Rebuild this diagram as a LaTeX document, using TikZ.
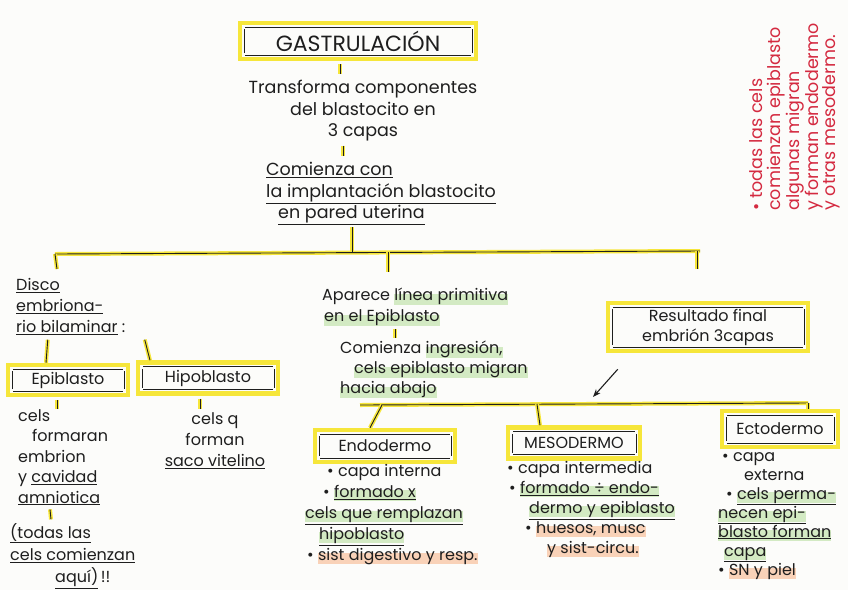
\documentclass[tikz,border=0pt]{standalone}
\usepackage{fontspec}
\setmainfont{Poppins}
\usetikzlibrary{arrows.meta}
\definecolor{hly}{HTML}{F6E63A}
\definecolor{hlg}{HTML}{D3EAC3}
\definecolor{hlo}{HTML}{F9D2B8}
\definecolor{ink}{HTML}{1E1E1E}
\definecolor{redink}{HTML}{D42A40}
\definecolor{paper}{HTML}{FCFCFA}
\newsavebox\hgbox
\newcommand\hg[2]{\sbox\hgbox{#2}\rlap{\textcolor{#1}{\rule[-4pt]{\wd\hgbox}{11pt}}}\usebox\hgbox}
\newcommand\ul[1]{\underline{#1}}
\begin{document}
\begin{tikzpicture}[x=1pt, y=-1pt,
  every node/.style={font=\fontsize{16}{21}\selectfont, text=ink, inner sep=2pt},
  ybox/.style={draw=hly, line width=4.5pt, fill=paper, inner sep=5pt,
    path picture={
      \draw[ink, line width=0.9pt]
        ([xshift=5pt,yshift=-4pt]path picture bounding box.north west) -- ([xshift=-5pt,yshift=-4pt]path picture bounding box.north east)
        ([xshift=5pt,yshift=4pt]path picture bounding box.south west) -- ([xshift=-5pt,yshift=4pt]path picture bounding box.south east)
        ([xshift=4pt,yshift=6pt]path picture bounding box.south west) -- ([xshift=4pt,yshift=-6pt]path picture bounding box.north west)
        ([xshift=-4pt,yshift=6pt]path picture bounding box.south east) -- ([xshift=-4pt,yshift=-6pt]path picture bounding box.north east);
    }},
  conn/.style={draw=hly, line width=4pt, postaction={draw=ink, line width=0.9pt}},
  txt/.style={align=left, anchor=north west},
]
\fill[paper] (0,0) rectangle (848,590);
\useasboundingbox (0,0) rectangle (848,590);

% top chain
\node[ybox, minimum width=236pt, minimum height=36pt, font=\fontsize{22}{24}\selectfont] (gast) at (358,41) {GASTRULACIÓN};
\node[align=center, font=\fontsize{17.5}{21.5}\selectfont] (trans) at (363,111) {Transforma componentes\\del blastocito en\\3 capas};
\node[txt, font=\fontsize{17.5}{21.5}\selectfont] (com) at (264,160) {\ul{Comienza con}\\\ul{la implantación blastocito}\\\hspace{12pt}\ul{en pared uterina}};
\draw[conn, shorten <=3pt] ([xshift=-18pt]gast.south) -- ++(0,13);
\draw[conn] ([xshift=-20pt,yshift=-2pt]trans.south) -- ++(0,10);

% first bar
\coordinate (b1L) at (55,254);
\coordinate (b1R) at (700,251);
\coordinate (j1) at (352,252);
\coordinate (j2) at (388,252);
\coordinate (j3) at (697,251);
\draw[conn] (b1L) -- (b1R);
\draw[conn] (com.south -| j1) -- (j1);
\draw[conn] (b1L) -- ++(2,15);
\draw[conn] (j2) -- ++(0,20);
\draw[conn] (j3) -- ++(0,18);

% left branch
\node[txt] (disco) at (14,276) {\ul{Disco}\\\ul{embriona-}\\\ul{rio bilaminar} :};
\node[ybox, minimum width=120pt, minimum height=30pt] (epi) at (68,380) {Epiblasto};
\node[ybox, minimum width=140pt, minimum height=31pt] (hipo) at (208,378) {Hipoblasto};
\draw[conn, shorten <=3pt] ([xshift=34pt]disco.south west) -- ([xshift=-22pt]epi.north);
\draw[conn, shorten <=3pt] ([xshift=130pt]disco.south west) -- ([xshift=-58pt]hipo.north);
\draw[conn, shorten <=3pt] ([xshift=-11pt]epi.south) -- ++(0,12);
\draw[conn, shorten <=3pt] ([xshift=-8pt]hipo.south) -- ++(0,13);
\node[txt, font=\fontsize{16}{20.5}\selectfont] (epitxt) at (16,407) {cels\\\hspace{14pt}formaran\\embrion\\y \ul{cavidad}\\\ul{amniotica}};
\node[align=center] (hipotxt) at (215,441) {cels q\\forman\\\ul{saco vitelino}};
\draw[conn] ([xshift=34pt,yshift=-2pt]epitxt.south west) -- ++(1,10);
\node[txt, font=\fontsize{16}{22}\selectfont] (todas) at (8,521) {\ul{(todas las}\\\ul{cels comienzan}\\\hspace{45pt}\ul{aquí)}\,!!};

% middle branch
\node[txt] (aparece) at (320,286) {Aparece \hg{hlg}{línea primitiva}\\\hspace{2pt}\hg{hlg}{en el Epiblasto}};
\draw[conn] ([xshift=75pt,yshift=-1pt]aparece.south west) -- ++(0,9);
\node[txt, font=\fontsize{16}{20}\selectfont] (com2) at (338,339) {Comienza \hg{hlg}{ingresión,}\\\hspace{14pt}\hg{hlg}{cels epiblasto migran}\\\hg{hlg}{hacia abajo}};

% result
\node[ybox, minimum width=200pt, minimum height=48pt, align=center, font=\fontsize{16}{20}\selectfont] (res) at (708,327) {Resultado final\\embrión 3capas};
\coordinate (arr) at (593,397);
\draw[ink, line width=1.1pt, -{Stealth[length=8pt]}] ([xshift=12pt,yshift=-16pt]res.south west) -- (arr);

% second bar
\coordinate (b2L) at (360,405);
\coordinate (b2R) at (808,403);
\coordinate (j4) at (382,405);
\coordinate (j5) at (537,404);
\draw[conn] (b2L) -- (b2R);
\node[ybox, minimum width=140pt, minimum height=32pt] (endo) at (385,446) {Endodermo};
\node[ybox, minimum width=132pt, minimum height=31pt] (meso) at (574,443) {MESODERMO};
\node[ybox, minimum width=116pt, minimum height=36pt] (ecto) at (780,429) {Ectodermo};
\draw[conn] (j4) -- ([xshift=-15pt]endo.north);
\draw[conn] (j5) -- ([xshift=-34pt]meso.north);
\draw[conn] (b2R) -- (ecto.north -| b2R);

% lists
\node[txt] (endotxt) at (303,462) {\hspace{22pt}• capa interna\\\hspace{18pt}• \hg{hlg}{\ul{formado x}}\\\hg{hlg}{\ul{cels que remplazan}}\\\hspace{14pt}\hg{hlg}{\ul{hipoblasto}}\\\hspace{2pt}• \hg{hlo}{sist digestivo y resp.}};
\node[txt, font=\fontsize{16}{20}\selectfont] (mesotxt) at (505,459) {• capa intermedia\\\hspace{2pt}• \hg{hlg}{\ul{formado ÷ endo-}}\\\hspace{22pt}\hg{hlg}{\ul{dermo y epiblasto}}\\\hspace{18pt}• \hg{hlo}{huesos, musc}\\\hspace{40pt}\hg{hlo}{y sist-circu.}};
\node[txt, font=\fontsize{16}{19}\selectfont] (ectotxt) at (716,450) {\hspace{4pt}• capa\\\hspace{26pt}externa\\\hspace{8pt}• \hg{hlg}{\ul{cels perma-}}\\\hg{hlg}{\ul{necen epi-}}\\\hg{hlg}{\ul{blasto forman}}\\\hspace{6pt}\hg{hlg}{\ul{capa}}\\• \hg{hlo}{SN y piel}};

% side note
\node[rotate=90, align=left, text=redink, font=\fontsize{17.5}{17.5}\selectfont] (note) at (795,117) {• todas las cels\\comienzan epiblasto\\algunas migran\\y forman endodermo\\y otras mesodermo.};
\end{tikzpicture}
\end{document}
